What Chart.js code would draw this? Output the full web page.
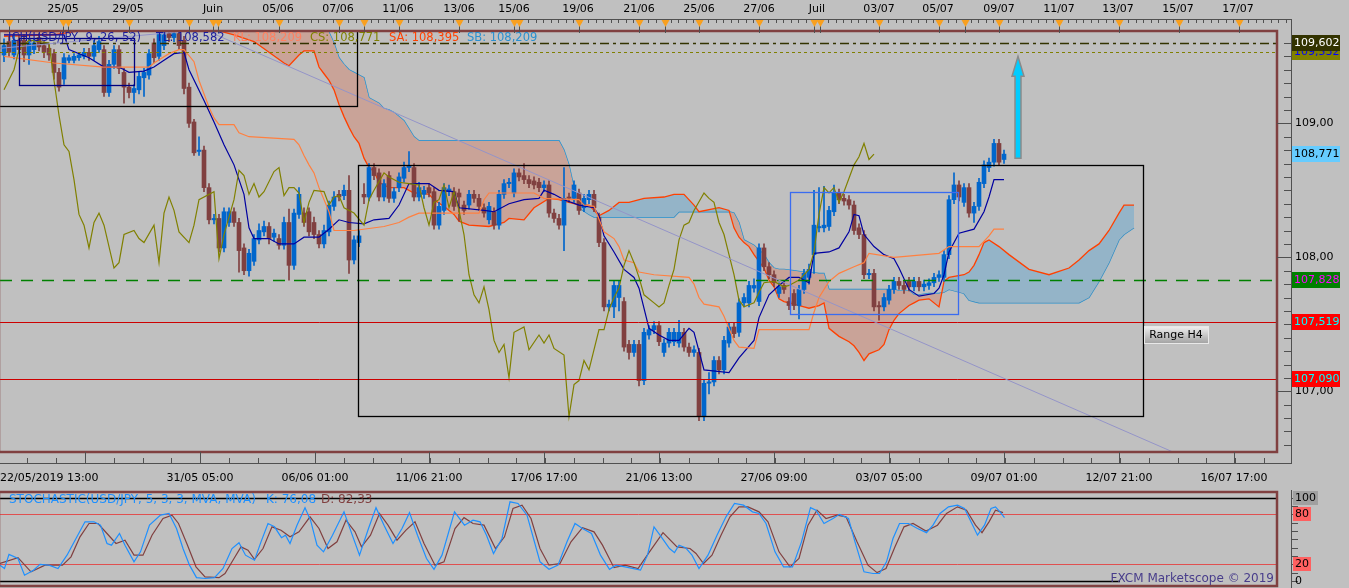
<!DOCTYPE html>
<html>
<head>
<meta charset="utf-8">
<title>USD/JPY H4 - Ichimoku</title>
<script src="https://cdn.jsdelivr.net/npm/chart.js@4.4.1/dist/chart.umd.min.js"></script>
<style>
  html, body { margin:0; padding:0; background:#c0c0c0; overflow:hidden; }
  #main { position:absolute; left:0; top:0; }
  #stoch { position:absolute; left:0; top:490px; }
</style>
</head>
<body>
<canvas id="main" width="1349" height="490" style="width:1349px;height:490px"></canvas>
<canvas id="stoch" width="1349" height="98" style="width:1349px;height:98px"></canvas>
<script>
const FONT = '11px "DejaVu Sans"'
const X_MIN = -0.8, X_MAX = 254.6

// bougies H4 (l'index du tableau = numero de la bougie)
const opens = [
  109.51,109.61,109.51,109.62,109.62,109.51,109.55,109.64,109.58,109.56,
  109.52,109.38,109.33,109.47,109.47,109.49,109.50,109.53,109.50,109.55,
  109.55,109.23,109.44,109.55,109.38,109.27,109.23,109.25,109.34,109.36,
  109.60,109.50,109.58,109.67,109.64,109.67,109.62,109.27,109.01,108.79,
  108.80,108.52,108.28,108.29,108.07,108.26,108.34,108.26,108.07,107.90,
  107.97,108.13,108.19,108.23,108.15,108.14,108.09,108.26,107.94,108.32,
  108.33,108.34,108.26,108.17,108.10,108.19,108.38,108.47,108.46,108.50,
  107.98,108.11,108.47,108.45,108.67,108.63,108.45,108.61,108.44,108.52,
  108.59,108.67,108.67,108.45,108.47,108.52,108.49,108.24,108.35,108.49,
  108.49,108.48,108.39,108.39,108.47,108.44,108.37,108.28,108.34,108.24,
  108.47,108.55,108.48,108.63,108.61,108.58,108.57,108.56,108.52,108.54,
  108.33,108.29,108.24,108.45,108.44,108.48,108.37,108.43,108.47,108.30,
  108.11,107.63,107.63,107.70,107.67,107.35,107.29,107.35,107.08,107.42,
  107.46,107.49,107.29,107.36,107.37,107.36,107.44,107.33,107.29,107.29,
  106.81,107.06,107.07,107.23,107.16,107.36,107.48,107.44,107.66,107.66,
  107.77,107.67,108.07,107.93,107.87,107.73,107.79,107.67,107.73,107.64,
  107.76,107.85,108.02,108.22,108.22,108.23,108.34,108.48,108.44,108.43,
  108.39,108.22,108.17,107.87,107.88,107.64,107.63,107.68,107.76,107.82,
  107.79,107.82,107.78,107.82,107.78,107.79,107.81,107.85,107.85,108.02,
  108.43,108.54,108.41,108.52,108.33,108.38,108.55,108.67,108.71,108.85,
  108.73]
const closes = [
  109.58,109.53,109.62,109.55,109.51,109.60,109.60,109.57,109.53,109.51,
  109.38,109.27,109.49,109.49,109.50,109.51,109.53,109.50,109.58,109.61,
  109.23,109.44,109.55,109.41,109.27,109.23,109.26,109.35,109.38,109.52,
  109.49,109.67,109.66,109.64,109.67,109.58,109.26,109.00,108.78,108.80,
  108.52,108.28,108.29,108.07,108.34,108.34,108.26,108.05,107.90,108.03,
  108.14,108.20,108.23,108.14,108.18,108.09,108.26,107.94,108.33,108.47,
  108.26,108.19,108.17,108.10,108.20,108.39,108.45,108.45,108.50,107.98,
  108.13,108.16,108.45,108.67,108.61,108.45,108.55,108.44,108.49,108.60,
  108.67,108.68,108.45,108.52,108.50,108.48,108.24,108.38,108.52,108.51,
  108.38,108.45,108.35,108.47,108.44,108.38,108.33,108.38,108.24,108.47,
  108.55,108.56,108.63,108.60,108.58,108.55,108.54,108.52,108.54,108.33,
  108.29,108.24,108.44,108.44,108.54,108.35,108.44,108.47,108.37,108.11,
  107.63,107.65,107.79,107.79,107.33,107.29,107.35,107.08,107.44,107.46,
  107.49,107.37,107.36,107.44,107.44,107.44,107.33,107.29,107.31,106.81,
  107.06,107.07,107.23,107.16,107.38,107.48,107.43,107.66,107.70,107.79,
  107.79,108.07,107.93,107.87,107.81,107.78,107.76,107.64,107.64,107.76,
  107.88,107.91,108.24,108.23,108.24,108.35,108.48,108.43,108.42,108.39,
  108.20,108.17,107.87,107.88,107.63,107.63,107.70,107.76,107.82,107.79,
  107.76,107.78,107.82,107.78,107.80,107.81,107.85,107.87,108.02,108.43,
  108.54,108.45,108.52,108.33,108.38,108.56,108.69,108.71,108.85,108.71,
  108.77]
const highs = [
  109.63,109.65,109.66,109.66,109.66,109.63,109.63,109.67,109.61,109.59,
  109.55,109.41,109.52,109.51,109.52,109.53,109.56,109.56,109.62,109.65,
  109.58,109.47,109.58,109.58,109.41,109.30,109.29,109.38,109.41,109.55,
  109.63,109.70,109.70,109.70,109.70,109.70,109.65,109.30,109.03,108.90,
  108.83,108.55,108.32,108.32,108.37,108.37,108.37,108.29,108.10,108.06,
  108.17,108.25,108.27,108.26,108.21,108.17,108.30,108.36,108.36,108.52,
  108.37,108.37,108.30,108.20,108.24,108.42,108.49,108.50,108.54,108.61,
  108.16,108.20,108.55,108.70,108.70,108.66,108.58,108.64,108.52,108.63,
  108.71,108.79,108.70,108.56,108.53,108.55,108.52,108.41,108.55,108.54,
  108.52,108.51,108.42,108.50,108.50,108.47,108.40,108.41,108.37,108.50,
  108.58,108.59,108.66,108.66,108.70,108.61,108.60,108.59,108.57,108.57,
  108.36,108.32,108.67,108.48,108.57,108.51,108.47,108.50,108.50,108.33,
  108.14,107.68,107.82,107.82,107.70,107.38,107.38,107.38,107.47,107.49,
  107.52,107.52,107.39,107.47,107.47,107.53,107.47,107.36,107.34,107.32,
  107.09,107.14,107.26,107.26,107.41,107.51,107.51,107.69,107.73,107.82,
  107.84,108.10,108.10,107.96,107.90,107.81,107.82,107.70,107.76,107.79,
  107.91,107.95,108.50,108.52,108.53,108.38,108.54,108.51,108.47,108.46,
  108.42,108.25,108.20,107.91,107.91,107.67,107.73,107.79,107.85,107.85,
  107.82,107.85,107.85,107.85,107.83,107.84,107.88,107.90,108.05,108.46,
  108.63,108.57,108.55,108.55,108.41,108.59,108.72,108.74,108.88,108.88,
  108.80]
const lows = [
  109.46,109.50,109.48,109.52,109.46,109.44,109.52,109.54,109.49,109.47,
  109.33,109.24,109.29,109.45,109.45,109.47,109.48,109.47,109.47,109.53,
  109.20,109.20,109.41,109.37,109.15,109.19,109.15,109.22,109.20,109.33,
  109.45,109.47,109.55,109.61,109.61,109.55,109.22,108.97,108.76,108.76,
  108.49,108.25,108.25,108.04,108.04,108.23,108.23,107.89,107.87,107.86,
  107.94,108.10,108.16,108.10,108.12,108.06,108.06,107.83,107.91,108.29,
  108.23,108.16,108.14,108.07,108.07,108.16,108.35,108.42,108.43,107.88,
  107.95,108.08,108.40,108.42,108.58,108.42,108.42,108.41,108.41,108.49,
  108.56,108.64,108.42,108.42,108.44,108.45,108.21,108.21,108.32,108.46,
  108.35,108.27,108.32,108.36,108.41,108.35,108.30,108.25,108.21,108.21,
  108.44,108.52,108.45,108.57,108.55,108.52,108.51,108.49,108.49,108.30,
  108.26,108.21,108.05,108.41,108.41,108.32,108.34,108.40,108.34,108.08,
  107.60,107.60,107.55,107.60,107.30,107.24,107.26,107.04,107.05,107.39,
  107.43,107.34,107.26,107.33,107.34,107.33,107.30,107.26,107.26,106.78,
  106.78,106.98,107.04,107.13,107.13,107.33,107.40,107.41,107.63,107.63,
  107.74,107.64,107.90,107.84,107.78,107.70,107.73,107.61,107.61,107.54,
  107.73,107.80,107.88,108.19,108.19,108.20,108.31,108.40,108.39,108.36,
  108.17,108.14,107.84,107.84,107.60,107.53,107.60,107.65,107.73,107.76,
  107.73,107.75,107.75,107.75,107.75,107.76,107.78,107.82,107.82,107.99,
  108.40,108.42,108.38,108.30,108.26,108.35,108.52,108.64,108.68,108.69,
  108.70]

// lignes ichimoku : [bougie, prix]
const tenkan = [[0,109.66],[12,109.66],[13,109.55],[17,109.49],[20,109.42],[23,109.42],[25,109.38],[28,109.39],[30,109.42],[32,109.47],[34,109.52],[36,109.53],[37,109.40],[40,109.17],[42,109.01],[44,108.84],[46,108.69],[48,108.47],[49,108.22],[50,108.14],[53,108.14],[55,108.10],[58,108.10],[60,108.15],[63,108.15],[65,108.21],[67,108.28],[69,108.26],[72,108.25],[74,108.28],[77,108.29],[79,108.39],[81,108.55],[85,108.55],[87,108.50],[90,108.49],[91,108.37],[96,108.35],[98,108.34],[101,108.40],[104,108.43],[107,108.44],[108,108.50],[110,108.47],[112,108.43],[115,108.39],[118,108.37],[119,108.31],[120,108.16],[122,108.04],[124,107.91],[126,107.85],[127,107.77],[129,107.47],[131,107.42],[133,107.38],[135,107.38],[137,107.47],[138,107.44],[140,107.16],[145,107.14],[147,107.25],[150,107.38],[151,107.55],[153,107.72],[155,107.79],[157,107.85],[159,107.85],[161,107.81],[162,108.03],[165,108.04],[167,108.07],[169,108.19],[170,108.32],[171,108.31],[172,108.17],[174,108.08],[176,108.02],[178,107.99],[179,107.92],[181,107.76],[183,107.71],[186,107.73],[187,107.77],[188,107.87],[189,108.04],[191,108.18],[194,108.21],[196,108.34],[197,108.45],[198,108.58],[200,108.58]]
const kijun = [[0,109.50],[10,109.45],[20,109.42],[29,109.42],[30,109.45],[33,109.52],[35,109.55],[36,109.55],[38,109.46],[39,109.32],[41,109.12],[42,109.04],[43,108.99],[46,108.99],[47,108.93],[49,108.90],[58,108.88],[59,108.84],[60,108.76],[61,108.69],[62,108.63],[63,108.52],[65,108.34],[66,108.20],[70,108.20],[76,108.23],[79,108.26],[81,108.30],[83,108.33],[95,108.33],[96,108.43],[97,108.48],[106,108.48],[108,108.44],[115,108.43],[116,108.39],[118,108.38],[120,108.19],[122,108.14],[123,108.08],[124,107.98],[126,107.96],[127,107.89],[130,107.87],[137,107.85],[138,107.80],[139,107.70],[140,107.65],[143,107.63],[144,107.56],[146,107.38],[147,107.33],[150,107.32],[151,107.46],[161,107.46],[162,107.59],[163,107.70],[165,107.82],[167,107.88],[170,107.93],[172,107.96],[173,108.03],[178,108.00],[187,108.03],[189,108.08],[195,108.08],[197,108.16],[198,108.21],[200,108.21]]
const chikou = [[0,109.25],[2,109.40],[3,109.55],[5,109.62],[9,109.60],[10,109.32],[11,109.06],[12,108.84],[13,108.79],[14,108.58],[15,108.32],[16,108.24],[17,108.07],[18,108.26],[19,108.33],[20,108.24],[22,107.92],[23,107.96],[24,108.17],[26,108.20],[27,108.14],[28,108.11],[30,108.24],[31,107.96],[32,108.33],[33,108.45],[34,108.35],[35,108.19],[37,108.11],[38,108.24],[39,108.43],[42,108.49],[43,107.99],[44,108.17],[46,108.43],[47,108.65],[48,108.61],[49,108.47],[50,108.55],[51,108.45],[52,108.49],[54,108.64],[55,108.67],[56,108.46],[57,108.52],[58,108.52],[59,108.48],[60,108.26],[61,108.41],[62,108.50],[64,108.49],[65,108.39],[66,108.45],[67,108.46],[68,108.37],[70,108.33],[72,108.24],[73,108.43],[74,108.50],[76,108.63],[77,108.60],[79,108.56],[81,108.55],[83,108.54],[84,108.37],[85,108.24],[86,108.41],[87,108.43],[88,108.54],[89,108.37],[90,108.49],[91,108.35],[92,108.17],[93,107.87],[94,107.72],[95,107.66],[96,107.78],[97,107.61],[98,107.38],[99,107.29],[100,107.35],[101,107.10],[102,107.44],[104,107.48],[105,107.31],[107,107.42],[108,107.36],[109,107.42],[110,107.32],[112,107.27],[113,106.81],[114,107.05],[115,107.08],[116,107.23],[117,107.16],[119,107.46],[120,107.46],[121,107.61],[122,107.70],[123,107.77],[124,107.94],[125,108.05],[126,107.96],[127,107.85],[128,107.72],[130,107.66],[131,107.63],[132,107.66],[133,107.79],[134,107.91],[135,108.13],[136,108.24],[137,108.26],[138,108.35],[140,108.48],[141,108.44],[142,108.41],[143,108.26],[144,108.17],[145,108.02],[146,107.87],[147,107.68],[148,107.63],[150,107.66],[151,107.74],[152,107.81],[154,107.82],[156,107.78],[157,107.79],[159,107.83],[161,107.91],[162,108.04],[163,108.32],[164,108.52],[165,108.48],[166,108.52],[167,108.41],[168,108.49],[169,108.59],[170,108.69],[171,108.75],[172,108.85],[173,108.73],[174,108.77]]

// nuage : memes bougies pour SA et SB
const cloudIdx = [
  0,10,20,30,40,46,50,53,56,57, 59,60,62,63,64,65,66,67,68,69,
  70,71,72,73,74,75,76,77,78,80, 82,83,85,86,88,90,91,93,97,100,
  101,104,106,109,111,112,113,114,115,117, 118,119,121,123,125,128,132,134,135,136,
  138,139,143,145,146,147,148,149,150,152, 153,154,155,156,158,160,161,163,164,165,
  167,169,170,171,172,173,175,176,177,178, 179,181,182,183,185,187,188,189,192,193,
  194,195,196,197,199,201,205,209,213,215, 217,219,221,223,224,226]
const spanA = [
  109.65,109.66,109.72,109.75,109.72,109.66,109.61,109.53,109.45,109.43,
  109.51,109.54,109.54,109.42,109.37,109.32,109.25,109.14,109.05,108.97,
  108.90,108.85,108.74,108.67,108.64,108.56,108.54,108.52,108.52,108.52,
  108.48,108.48,108.47,108.43,108.38,108.32,108.27,108.24,108.23,108.26,
  108.29,108.28,108.37,108.44,108.43,108.42,108.41,108.40,108.39,108.39,
  108.35,108.31,108.35,108.41,108.41,108.44,108.45,108.47,108.47,108.47,
  108.39,108.34,108.37,108.35,108.22,108.15,108.11,108.08,108.02,107.92,
  107.83,107.78,107.69,107.67,107.65,107.63,107.62,107.64,107.66,107.47,
  107.41,107.37,107.34,107.29,107.23,107.28,107.31,107.35,107.46,107.53,
  107.58,107.64,107.66,107.68,107.69,107.63,107.82,107.85,107.87,107.89,
  107.94,108.02,108.11,108.13,108.08,108.02,107.91,107.87,107.92,107.98,
  108.05,108.10,108.20,108.33,108.39,108.39]
const spanB = [
  109.85,109.85,109.85,109.85,109.85,109.85,109.85,109.85,109.85,109.85,
  109.85,109.85,109.80,109.78,109.75,109.68,109.60,109.49,109.44,109.40,
  109.38,109.36,109.34,109.19,109.17,109.15,109.11,109.10,109.08,109.02,
  108.90,108.87,108.87,108.87,108.87,108.87,108.87,108.87,108.87,108.87,
  108.87,108.87,108.87,108.87,108.87,108.80,108.69,108.52,108.37,108.32,
  108.30,108.30,108.30,108.30,108.30,108.30,108.30,108.30,108.34,108.34,
  108.34,108.34,108.34,108.34,108.33,108.26,108.13,108.11,108.09,108.02,
  107.96,107.92,107.91,107.91,107.90,107.89,107.89,107.88,107.88,107.76,
  107.76,107.76,107.76,107.76,107.76,107.76,107.76,107.76,107.76,107.76,
  107.75,107.75,107.72,107.72,107.73,107.73,107.74,107.76,107.73,107.68,
  107.67,107.66,107.66,107.66,107.66,107.66,107.66,107.66,107.66,107.66,
  107.70,107.82,107.96,108.13,108.17,108.22]

// stochastique : [bougie, valeur]
const stochK = [[-0.8,19],[0.1,15],[1,32],[2.8,27],[4.1,7],[5.9,13],[7.2,20],[9,19],[10.8,15],[12.6,31],[14.4,51],[16.2,71],[18,71],[19.3,67],[20.6,45],[21.5,43],[23.1,57],[24.2,43],[26,23],[27.3,35],[29.1,67],[31.3,79],[33,81],[34.5,63],[35.8,39],[37.1,19],[38.5,4],[40.3,3],[42.1,4],[43.8,15],[45.6,39],[47,46],[48.3,31],[50.1,25],[51.4,47],[52.8,69],[54.1,65],[55.5,52],[56.3,55],[57.2,45],[58.6,67],[60.2,88],[61.3,73],[62.6,43],[63.9,35],[65.7,55],[68,83],[69.3,61],[71.1,31],[72.9,63],[74.4,88],[76,67],[77.8,45],[79.6,63],[81.1,82],[82.7,55],[84.5,27],[86,14],[87.6,31],[90.1,83],[92.1,67],[93.8,73],[95.2,71],[96.5,55],[97.9,33],[99.6,51],[101.2,95],[102.8,93],[104.6,79],[105.9,51],[107.2,23],[109,14],[110.8,19],[112.6,47],[114.2,69],[115.7,63],[117.5,57],[119.3,31],[121.1,14],[122.4,19],[124.2,17],[127.3,13],[128.7,31],[130,65],[131.2,55],[133.1,39],[134.1,34],[135,43],[136.3,40],[137.6,31],[139,15],[140.8,31],[142.6,55],[144.4,77],[146.1,93],[147.9,91],[149.7,83],[151,81],[152.4,69],[154.2,35],[155.9,17],[157.7,17],[159.5,47],[161.3,88],[162.4,85],[164,69],[165.8,75],[167.1,80],[168.9,75],[170.2,47],[172,11],[173.8,9],[175.1,9],[176.5,23],[177.8,51],[179.1,69],[180.9,69],[182.7,63],[184.5,58],[185.8,67],[187.2,81],[188.9,89],[190.7,91],[192.1,87],[193.4,71],[194.7,55],[196.1,67],[197.4,87],[198.3,89],[199.2,83],[200.1,76]]
const stochD = [[-0.8,21],[2.8,28],[5.4,11],[8.2,19],[11.7,19],[13.4,29],[15.2,53],[17,69],[18.8,69],[20.6,57],[22.4,45],[24.2,49],[26,31],[27.8,31],[29.6,55],[31.8,75],[33.6,79],[34.9,69],[36.7,43],[38.4,17],[40.2,5],[43,4],[44.2,9],[46,27],[47.4,41],[48.8,37],[50.1,26],[51.8,39],[53.6,65],[55.4,61],[57.2,53],[59,59],[61.2,77],[63,63],[64.8,39],[66.6,47],[68.4,73],[70.2,59],[71.5,41],[73.3,55],[75.1,81],[76.8,67],[78.6,49],[80.4,61],[82.2,71],[84,45],[86.2,19],[88,23],[90.2,63],[92,76],[93.8,69],[96,67],[98.3,39],[100.1,53],[101.8,87],[103.6,91],[105.4,75],[107.2,39],[109,19],[111.2,21],[113.4,47],[115.7,64],[118,59],[119.7,43],[122,16],[124.2,19],[126.8,15],[129.1,35],[131.8,58],[134.6,41],[137.2,39],[138.4,33],[139.9,21],[141.6,31],[143.4,55],[145.2,77],[147,89],[148.8,89],[151,83],[152.8,71],[155,35],[157.2,17],[159,27],[160.8,67],[162.6,85],[164.4,75],[166.6,79],[168.4,77],[170.6,47],[172.8,19],[174.6,10],[176.4,15],[178.2,41],[180,65],[181.8,69],[184.4,60],[186.7,67],[188.5,81],[190.7,89],[192.5,85],[194.3,67],[195.6,58],[197,71],[198.3,85],[199.8,82]]

// axes
const priceLabels = [109, 108, 107]
const topLabels = ['25/05','29/05','Juin','05/06','07/06','11/06','13/06','15/06','19/06','21/06','25/06','27/06','Juil','03/07','05/07','09/07','11/07','13/07','15/07','17/07']
const topLabelIdx = [11.8,24.8,41.8,54.8,66.8,78.8,91,102,114.8,127,139,151,162.6,175,186.8,199,211,222.8,234.8,246.8]
const markerIdx = [1,11.8,12.8,25,37,41.8,42.8,55,67,72,79,91,102,103,115,127,132.2,139,151,162,163.2,175,187,192.2,199,211,223,235,247]
const bottomLabels = ['31/05 05:00','06/06 01:00','11/06 21:00','17/06 17:00','21/06 13:00','27/06 09:00','03/07 05:00','09/07 01:00','12/07 21:00','16/07 17:00']
const bottomLabelIdx = [39.2,62.2,85,108,131,154,177,200,223,246]

// niveaux horizontaux et etiquettes de prix
const levelValues = [109.602, 109.532, 107.828, 107.519, 107.090]
const tagValues = [109.532, 109.602, 108.771, 107.828, 107.519, 107.090]
const tagBg = ['#808000', '#333300', '#66ccff', '#008000', '#ff0000', '#ff0000']
const tagFg = ['#0000ff', '#ffffff', '#000000', '#ff00ff', '#00ffff', '#00ffff']

// dessins : rectangles, ligne de tendance, fleche
const boxStart = [-1, 3, 70.8, 157.2]
const boxEnd = [70.6, 26, 227.8, 190.8]
const boxTop = [109.75, 109.64, 108.69, 108.49]
const boxBottom = [109.13, 109.29, 106.82, 107.58]
const boxColor = ['#000000', '#000080', '#000000', '#3a6cf0']
const trendIdx = [-0.8, 40, 233.6]
const trendVal = [109.56, 109.70, 106.55]
const arrowIdx = 202.8, arrowFrom = 108.74, arrowTo = 109.50

const fmt = (v, d) => v.toFixed(d).replace('.', ',')
const pts = arr => arr.map(p => ({x: p[0], y: p[1]}))

function txt(ctx, s, x, y, color, align){
    ctx.fillStyle = color
    ctx.textAlign = align || 'left'
    ctx.textBaseline = 'middle'
    ctx.fillText(s, x, y)
}
function hline(ctx, x0, x1, y){ ctx.beginPath(); ctx.moveTo(x0, y); ctx.lineTo(x1, y); ctx.stroke() }
function vline(ctx, x, y0, y1){ ctx.beginPath(); ctx.moveTo(x, y0); ctx.lineTo(x, y1); ctx.stroke() }

const upCol = '#0066cc', downCol = '#804040'
const candleCol = opens.map((o, i) => closes[i] >= o ? upCol : downCol)

//decor du graphique principal
const mainDecor = {
    id: 'mainDecor',
    beforeDraw(chart){
        const ctx = chart.ctx
        ctx.save(); ctx.fillStyle = '#c0c0c0'; ctx.fillRect(0, 0, chart.width, chart.height); ctx.restore()
    },
    afterDatasetsDraw(chart){
        const {ctx, chartArea: a, scales: {x, y}} = chart
        ctx.save()
        ctx.beginPath(); ctx.rect(a.left, a.top, a.right - a.left, a.bottom - a.top); ctx.clip()
        const lvlStyle = [['#333300', 1.5, [9,4,3,4]], ['#808000', 1, [3,3]], ['#008000', 1.5, [12,9]], ['#cc0000', 1, []], ['#cc0000', 1, []]]
        levelValues.forEach((v, k) => {
            ctx.strokeStyle = lvlStyle[k][0]; ctx.lineWidth = lvlStyle[k][1]; ctx.setLineDash(lvlStyle[k][2])
            hline(ctx, a.left, a.right, Math.round(y.getPixelForValue(v)) + 0.5)
        })
        ctx.setLineDash([])
        // ligne de tendance
        ctx.strokeStyle = '#9494c8'; ctx.lineWidth = 1
        ctx.beginPath()
        trendIdx.forEach((t, k) => {
            const px = x.getPixelForValue(t), py = y.getPixelForValue(trendVal[k])
            k ? ctx.lineTo(px, py) : ctx.moveTo(px, py)
        })
        ctx.stroke()
        // rectangles
        ctx.lineWidth = 1.3
        boxStart.forEach((s, k) => {
            const x0 = x.getPixelForValue(s), x1 = x.getPixelForValue(boxEnd[k])
            const y0 = y.getPixelForValue(boxTop[k]), y1 = y.getPixelForValue(boxBottom[k])
            ctx.strokeStyle = boxColor[k]
            ctx.strokeRect(Math.round(x0) + 0.5, Math.round(y0) + 0.5, Math.round(x1 - x0), Math.round(y1 - y0))
        })
        // fleche
        const cx = x.getPixelForValue(arrowIdx), yb = y.getPixelForValue(arrowFrom), yt = y.getPixelForValue(arrowTo)
        const hb = yt + 20
        ctx.beginPath()
        ctx.moveTo(cx - 3, yb); ctx.lineTo(cx - 3, hb); ctx.lineTo(cx - 6, hb); ctx.lineTo(cx, yt)
        ctx.lineTo(cx + 6, hb); ctx.lineTo(cx + 3, hb); ctx.lineTo(cx + 3, yb); ctx.closePath()
        ctx.fillStyle = '#00ccff'; ctx.fill()
        ctx.strokeStyle = '#8a8a8a'; ctx.lineWidth = 1.5; ctx.stroke()
        ctx.restore()
    },
    afterDraw(chart){
        const {ctx, chartArea: a, scales: {x, y}} = chart
        ctx.save()
        ctx.font = FONT
        // cadre
        ctx.strokeStyle = '#804040'; ctx.lineWidth = 2.5
        ctx.strokeRect(a.left - 1, a.top, a.right - a.left + 1, a.bottom - a.top)
        // regle du haut
        ctx.strokeStyle = '#505050'; ctx.lineWidth = 1
        hline(ctx, 0, 1292, 19.5)
        for(let v = -0.15; v < X_MAX + 2; v += 1.5){
            vline(ctx, Math.round(x.getPixelForValue(v)) + 0.5, 19, 23)
        }
        markerIdx.forEach(m => {
            const px = Math.round(x.getPixelForValue(m)) + 0.5
            ctx.strokeStyle = '#505050'; vline(ctx, px, 19, 33)
            ctx.fillStyle = '#f8a020'
            ctx.beginPath(); ctx.moveTo(px - 4, 20); ctx.lineTo(px + 4, 20); ctx.lineTo(px, 27); ctx.closePath(); ctx.fill()
        })
        topLabels.forEach((s, k) => txt(ctx, s, x.getPixelForValue(topLabelIdx[k]), 9, '#000000', 'center'))
        // axe de droite
        ctx.strokeStyle = '#505050'
        vline(ctx, 1291.5, 19, 463)
        for(let k = 1066; k <= 1096; k++){
            const py = Math.round(y.getPixelForValue(k / 10)) + 0.5
            if(k % 10 === 0){ hline(ctx, 1277, 1291, py) }else{ hline(ctx, 1284, 1291, py) }
        }
        priceLabels.forEach(v => txt(ctx, fmt(v, 2), 1295, y.getPixelForValue(v), '#000000'))
        tagValues.forEach((v, k) => {
            const py = y.getPixelForValue(v)
            ctx.fillStyle = tagBg[k]; ctx.fillRect(1292, Math.round(py) - 8, 48, 16)
            txt(ctx, fmt(v, 3), 1294, py, tagFg[k])
        })
        // regle du bas
        ctx.strokeStyle = '#505050'
        hline(ctx, 0, 1292, 463.5)
        for(let v = 16.2 - 5.75 * 3; v < X_MAX; v += 5.75){
            vline(ctx, Math.round(x.getPixelForValue(v)) + 0.5, 458, 463)
        }
        ;[16.2].concat(bottomLabelIdx).forEach(v => vline(ctx, Math.round(x.getPixelForValue(v)) + 0.5, 452, 463))
        txt(ctx, '22/05/2019 13:00', 0, 478, '#000000')
        bottomLabels.forEach((s, k) => txt(ctx, s, x.getPixelForValue(bottomLabelIdx[k]), 478, '#000000', 'center'))
        // etiquette Range H4
        const rx = Math.round(x.getPixelForValue(228)), ry = Math.round(y.getPixelForValue(107.49))
        const g = ctx.createLinearGradient(0, ry, 0, ry + 17)
        g.addColorStop(0, '#f2f2f2'); g.addColorStop(1, '#a4a4a4')
        ctx.fillStyle = g; ctx.fillRect(rx, ry, 64, 17)
        ctx.strokeStyle = '#e8e8e8'; ctx.lineWidth = 1; ctx.strokeRect(rx + 0.5, ry + 0.5, 64, 17)
        txt(ctx, 'Range H4', rx + 32, ry + 9, '#000000', 'center')
        // legende ichimoku
        const seg = [['ICH(USD/JPY, 9, 26, 52)', '#1c1c9c', 8], ['TL: 108,582', '#1c1c9c', 156], ['KL: 108,209', '#ff8060', 233],
                     ['CS: 108,771', '#808000', 310], ['SA: 108,395', '#ff4000', 389], ['SB: 108,209', '#2a90d0', 467]]
        ctx.font = '11.5px "DejaVu Sans"'
        seg.forEach(s => txt(ctx, s[0], s[2], 38, s[1]))
        ctx.restore()
    }
}

new Chart(document.getElementById('main'), {
    type: 'bar',
    data: {
        datasets: [
            {type: 'line', data: pts(cloudIdx.map((c, k) => [c, spanB[k]])), borderColor: '#1e8fd0', borderWidth: 1.3, pointRadius: 0, fill: false, order: 6},
            {type: 'line', data: pts(cloudIdx.map((c, k) => [c, spanA[k]])), borderColor: '#ff4000', borderWidth: 1.3, pointRadius: 0,
             fill: {target: '-1', above: 'rgb(148,180,200)', below: 'rgb(201,163,152)'}, order: 5},
            {data: highs.map((h, i) => ({x: i, y: [lows[i], h]})), backgroundColor: candleCol, barThickness: 1, grouped: false, order: 3},
            {data: opens.map((o, i) => ({x: i, y: [o, closes[i]]})), backgroundColor: candleCol, barThickness: 4, minBarLength: 1, grouped: false, order: 2},
            {type: 'line', data: pts(chikou), borderColor: '#808000', borderWidth: 1.2, pointRadius: 0, fill: false, order: 1},
            {type: 'line', data: pts(kijun), borderColor: '#ff8040', borderWidth: 1.2, pointRadius: 0, fill: false, order: 1},
            {type: 'line', data: pts(tenkan), borderColor: '#0000a0', borderWidth: 1.2, pointRadius: 0, fill: false, order: 1}
        ]
    },
    options: {
        responsive: false, animation: false, events: [],
        layout: {padding: {left: 0, right: 72, top: 31, bottom: 38}},
        scales: {
            x: {type: 'linear', min: X_MIN, max: X_MAX, display: false, offset: false},
            y: {min: 106.547, max: 109.689, display: false}
        },
        plugins: {legend: {display: false}, tooltip: {enabled: false}}
    },
    plugins: [mainDecor]
})

//decor du stochastique
const stochLabels = [100, 80, 20, 0]
const stochLabelBg = ['#a0a0a0', '#ff6060', '#ff6060', null]
const stochDecor = {
    id: 'stochDecor',
    beforeDraw(chart){
        const ctx = chart.ctx
        ctx.save(); ctx.fillStyle = '#c0c0c0'; ctx.fillRect(0, 0, chart.width, chart.height); ctx.restore()
    },
    beforeDatasetsDraw(chart){
        const {ctx, chartArea: a, scales: {y}} = chart
        ctx.save()
        ctx.strokeStyle = '#e05050'; ctx.lineWidth = 1
        ;[80, 20].forEach(v => hline(ctx, a.left, a.right, Math.round(y.getPixelForValue(v)) + 0.5))
        ctx.strokeStyle = '#000000'; ctx.lineWidth = 1.5
        hline(ctx, a.left, a.right, Math.round(y.getPixelForValue(100)) + 0.5)
        hline(ctx, a.left, 1120, Math.round(y.getPixelForValue(0)) + 0.5)
        ctx.restore()
    },
    afterDraw(chart){
        const {ctx, chartArea: a, scales: {y}} = chart
        ctx.save()
        ctx.font = FONT
        ctx.strokeStyle = '#804040'; ctx.lineWidth = 2.5
        ctx.strokeRect(a.left - 1, a.top, a.right - a.left + 1, a.bottom - a.top)
        ctx.strokeStyle = '#505050'; ctx.lineWidth = 1
        vline(ctx, 1291.5, 0, chart.height)
        for(let v = 0; v <= 100; v += 10){ hline(ctx, 1292, 1298, Math.round(y.getPixelForValue(v)) + 0.5) }
        stochLabels.forEach((v, k) => {
            const py = y.getPixelForValue(v), s = String(v)
            if(stochLabelBg[k]){
                ctx.fillStyle = stochLabelBg[k]
                ctx.fillRect(1293, Math.round(py) - 7, ctx.measureText(s).width + 4, 14)
            }
            txt(ctx, s, 1295, py, '#000000')
        })
        ctx.font = '12px "DejaVu Sans"'
        txt(ctx, 'STOCHASTIC(USD/JPY, 5, 3, 3, MVA, MVA)', 9, 10, '#1e90ff')
        txt(ctx, 'K: 76,08', 266, 10, '#1e90ff')
        txt(ctx, 'D: 82,33', 321, 10, '#804040')
        txt(ctx, 'FXCM Marketscope © 2019', 1274, 89, '#483d8b', 'right')
        ctx.restore()
    }
}

new Chart(document.getElementById('stoch'), {
    type: 'line',
    data: {
        datasets: [
            {data: pts(stochK), borderColor: '#1e90ff', borderWidth: 1.2, pointRadius: 0, fill: false, order: 1},
            {data: pts(stochD), borderColor: '#804040', borderWidth: 1.2, pointRadius: 0, fill: false, order: 2}
        ]
    },
    options: {
        responsive: false, animation: false, events: [],
        layout: {padding: {left: 0, right: 72, top: 2, bottom: 2}},
        scales: {
            x: {type: 'linear', min: X_MIN, max: X_MAX, display: false},
            y: {min: -6, max: 106.8, display: false}
        },
        plugins: {legend: {display: false}, tooltip: {enabled: false}}
    },
    plugins: [stochDecor]
})
</script>
</body>
</html>
